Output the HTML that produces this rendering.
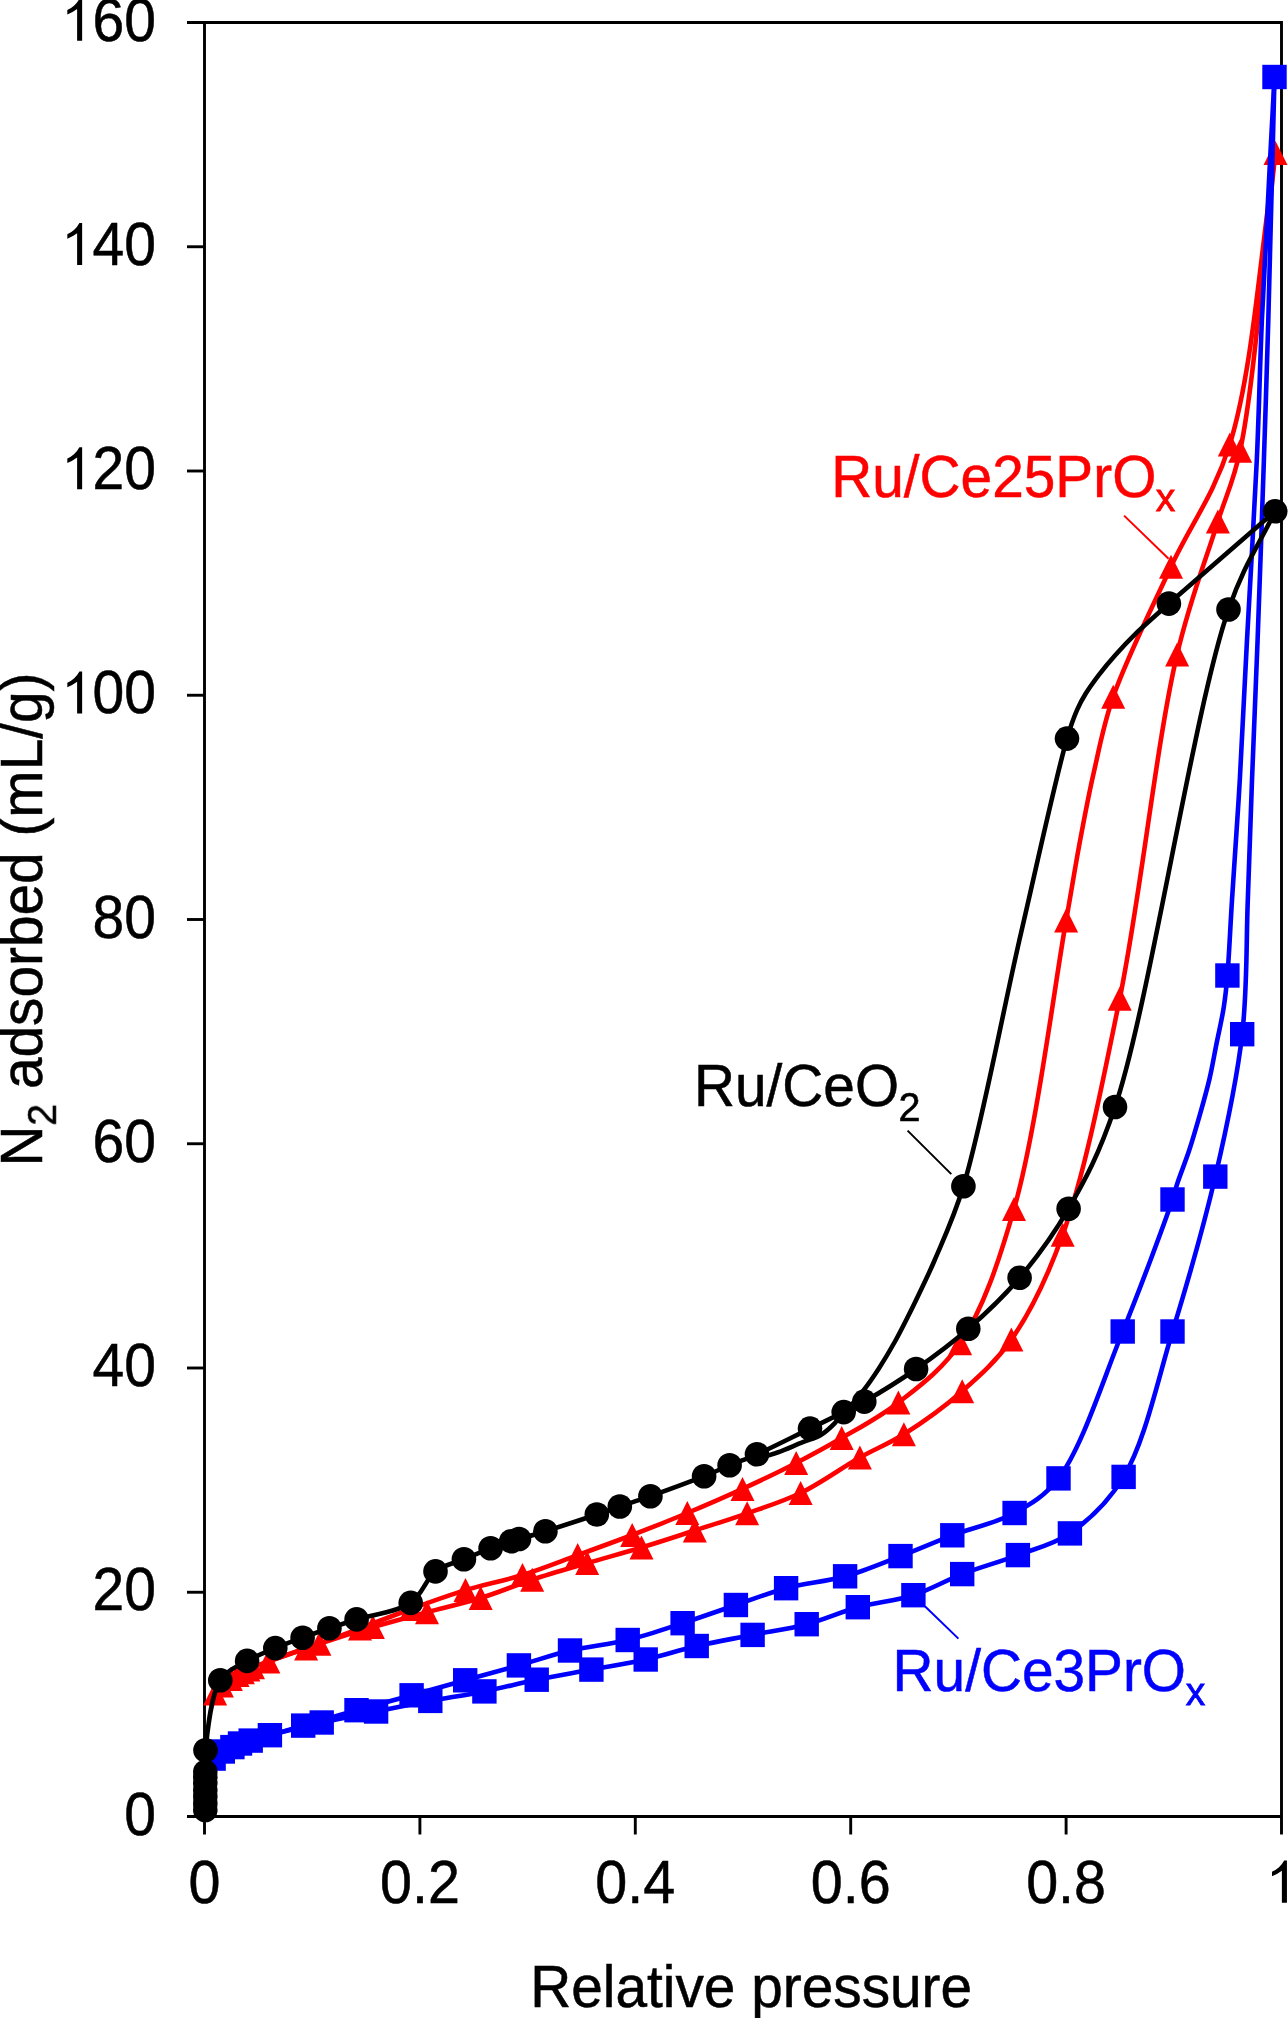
<!DOCTYPE html>
<html><head><meta charset="utf-8"><title>N2 adsorption isotherms</title>
<style>html,body{margin:0;padding:0;background:#fff;}body{width:1288px;height:2018px;overflow:hidden;}svg{display:block;}text{font-family:"Liberation Sans",sans-serif;}</style>
</head><body>
<svg width="1288" height="2018" viewBox="0 0 1288 2018"><defs><filter id="nf" x="-20%" y="-20%" width="140%" height="140%"><feOffset dx="0" dy="0"/></filter></defs><g stroke="#000" stroke-width="2.9" fill="none" stroke-linecap="butt"><path d="M187.0,22.5H1281.5V1834.5" fill="none"/><path d="M204.5,22.5V1834.5" fill="none"/><path d="M187.0,1816.5H1281.5" fill="none"/><path d="M187,1592.25H204.5"/><path d="M187,1368.00H204.5"/><path d="M187,1143.75H204.5"/><path d="M187,919.50H204.5"/><path d="M187,695.25H204.5"/><path d="M187,471.00H204.5"/><path d="M187,246.75H204.5"/><path d="M419.90,1816.5V1834.5"/><path d="M635.30,1816.5V1834.5"/><path d="M850.70,1816.5V1834.5"/><path d="M1066.10,1816.5V1834.5"/></g><g font-family="Liberation Sans, sans-serif" fill="#000" stroke="#000" stroke-width="0.5"><text transform="translate(124.30,1834.70) scale(1,1.060)" font-size="57.0">0</text><text transform="translate(92.60,1610.45) scale(1,1.060)" font-size="57.0">20</text><text transform="translate(92.60,1386.20) scale(1,1.060)" font-size="57.0">40</text><text transform="translate(92.60,1161.95) scale(1,1.060)" font-size="57.0">60</text><text transform="translate(92.60,937.70) scale(1,1.060)" font-size="57.0">80</text><path transform="translate(60.90,713.45) scale(0.02783,-0.02856)" d="M583,0L763,0L763,1466L665,1466Q600,1340 470,1225Q360,1130 231,1075L231,920Q420,990 583,1110Z"/><text transform="translate(92.60,713.45) scale(1,1.060)" font-size="57.0">00</text><path transform="translate(60.90,489.20) scale(0.02783,-0.02856)" d="M583,0L763,0L763,1466L665,1466Q600,1340 470,1225Q360,1130 231,1075L231,920Q420,990 583,1110Z"/><text transform="translate(92.60,489.20) scale(1,1.060)" font-size="57.0">20</text><path transform="translate(60.90,264.95) scale(0.02783,-0.02856)" d="M583,0L763,0L763,1466L665,1466Q600,1340 470,1225Q360,1130 231,1075L231,920Q420,990 583,1110Z"/><text transform="translate(92.60,264.95) scale(1,1.060)" font-size="57.0">40</text><path transform="translate(60.90,40.70) scale(0.02783,-0.02856)" d="M583,0L763,0L763,1466L665,1466Q600,1340 470,1225Q360,1130 231,1075L231,920Q420,990 583,1110Z"/><text transform="translate(92.60,40.70) scale(1,1.060)" font-size="57.0">60</text><text transform="translate(188.51,1902.80) scale(1,1.060)" font-size="57.5">0</text><text transform="translate(379.93,1902.80) scale(1,1.060)" font-size="57.5">0.2</text><text transform="translate(595.33,1902.80) scale(1,1.060)" font-size="57.5">0.4</text><text transform="translate(810.73,1902.80) scale(1,1.060)" font-size="57.5">0.6</text><text transform="translate(1026.13,1902.80) scale(1,1.060)" font-size="57.5">0.8</text><path transform="translate(1265.51,1902.80) scale(0.02808,-0.02881)" d="M583,0L763,0L763,1466L665,1466Q600,1340 470,1225Q360,1130 231,1075L231,920Q420,990 583,1110Z"/><text transform="translate(530.24,2007.00) scale(1,1.045)" font-size="56.8">Relative pressure</text><text transform="translate(41.9,1166.5) rotate(-90) scale(1,1.045)" font-size="56.8">N</text><text transform="translate(55.9,1125.8) rotate(-90) scale(1,1.01)" font-size="39.5" filter="url(#nf)">2</text><text transform="translate(41.9,1089.11) rotate(-90) scale(1,1.045)" font-size="56.8">adsorbed (mL/g)</text></g><g fill="none" stroke="#ff0000" stroke-width="4.6" stroke-linejoin="round"><path d="M215.1,1693.4 C217.4,1690.8 219.3,1688.0 221.9,1685.6 C224.6,1683.2 228.1,1681.0 230.9,1679.1 C233.2,1677.5 235.4,1676.2 237.5,1675.0 C239.4,1673.9 241.1,1673.1 242.9,1672.2 C244.7,1671.3 246.6,1670.3 248.3,1669.5 C249.9,1668.7 251.0,1668.2 253.0,1667.3 C256.6,1665.8 261.7,1663.8 268.4,1661.4 C280.4,1657.0 302.1,1649.4 319.4,1643.7 C337.0,1637.9 355.0,1632.3 372.9,1627.1 C390.8,1621.8 409.0,1617.1 427.0,1612.2 C444.9,1607.4 463.1,1603.4 480.7,1598.0 C498.2,1592.6 514.7,1585.5 532.2,1579.7 C550.2,1573.8 568.9,1568.5 587.2,1563.1 C605.3,1557.8 623.5,1552.9 641.5,1547.5 C659.4,1542.1 677.1,1536.2 694.8,1530.5 C712.3,1524.8 729.6,1519.5 747.1,1513.3 C764.9,1507.0 782.7,1501.7 800.6,1493.0 C820.3,1483.5 841.5,1467.9 859.9,1457.5 C875.5,1448.7 888.6,1443.8 903.9,1434.2 C922.4,1422.6 944.2,1407.0 962.2,1391.2 C980.0,1375.5 996.3,1361.2 1011.4,1339.6 C1030.7,1311.9 1047.2,1277.8 1062.7,1234.8 C1085.0,1172.8 1102.1,1085.2 1119.7,998.8 C1140.8,895.2 1156.5,741.9 1177.1,654.4 C1190.1,599.2 1206.3,558.8 1217.9,521.4 C1226.4,494.1 1233.2,482.8 1240.1,450.7 C1254.0,386.1 1263.7,252.2 1275.5,153.0"/><path d="M1275.5,153.0 C1260.3,250.1 1253.2,369.3 1229.8,444.4 C1213.9,495.3 1190.2,525.2 1171.0,566.7 C1151.3,609.3 1126.5,658.7 1113.2,696.8 C1103.3,725.2 1099.3,748.4 1093.6,773.3 C1088.2,796.9 1084.2,818.8 1079.7,842.6 C1075.0,867.8 1072.2,886.3 1066.1,920.5 C1054.4,986.3 1036.2,1132.0 1014.0,1209.1 C998.4,1263.2 983.0,1309.2 960.1,1343.2 C942.5,1369.4 919.4,1386.2 898.4,1402.6 C879.8,1417.1 859.7,1427.5 841.7,1438.1 C825.8,1447.4 812.1,1454.8 796.2,1463.0 C779.1,1471.8 760.6,1480.6 742.5,1488.9 C724.3,1497.3 705.8,1505.3 687.3,1513.0 C669.0,1520.7 650.6,1527.9 632.2,1535.0 C614.0,1542.0 595.9,1548.4 577.7,1555.1 C559.4,1561.8 541.2,1569.2 522.5,1575.0 C503.8,1580.8 484.2,1584.4 465.5,1590.1 C447.0,1595.7 428.8,1602.5 411.0,1609.0 C393.7,1615.3 377.2,1621.9 360.0,1628.4 C342.3,1635.1 322.5,1642.5 306.1,1648.4 C292.4,1653.3 281.0,1657.1 268.4,1661.4"/></g><g fill="#ff0000"><path d="M215.1,1681.4L203.1,1705.4L227.1,1705.4Z"/><path d="M221.9,1673.6L209.9,1697.6L233.9,1697.6Z"/><path d="M230.9,1667.1L218.9,1691.1L242.9,1691.1Z"/><path d="M237.5,1663.0L225.5,1687.0L249.5,1687.0Z"/><path d="M242.9,1660.2L230.9,1684.2L254.9,1684.2Z"/><path d="M248.3,1657.5L236.3,1681.5L260.3,1681.5Z"/><path d="M253.0,1655.3L241.0,1679.3L265.0,1679.3Z"/><path d="M268.4,1649.4L256.4,1673.4L280.4,1673.4Z"/><path d="M319.4,1631.7L307.4,1655.7L331.4,1655.7Z"/><path d="M372.9,1615.1L360.9,1639.1L384.9,1639.1Z"/><path d="M427.0,1600.2L415.0,1624.2L439.0,1624.2Z"/><path d="M480.7,1586.0L468.7,1610.0L492.7,1610.0Z"/><path d="M532.2,1567.7L520.2,1591.7L544.2,1591.7Z"/><path d="M587.2,1551.1L575.2,1575.1L599.2,1575.1Z"/><path d="M641.5,1535.5L629.5,1559.5L653.5,1559.5Z"/><path d="M694.8,1518.5L682.8,1542.5L706.8,1542.5Z"/><path d="M747.1,1501.3L735.1,1525.3L759.1,1525.3Z"/><path d="M800.6,1481.0L788.6,1505.0L812.6,1505.0Z"/><path d="M859.9,1445.5L847.9,1469.5L871.9,1469.5Z"/><path d="M903.9,1422.2L891.9,1446.2L915.9,1446.2Z"/><path d="M962.2,1379.2L950.2,1403.2L974.2,1403.2Z"/><path d="M1011.4,1327.6L999.4,1351.6L1023.4,1351.6Z"/><path d="M1062.7,1222.8L1050.7,1246.8L1074.7,1246.8Z"/><path d="M1119.7,986.8L1107.7,1010.8L1131.7,1010.8Z"/><path d="M1177.1,642.4L1165.1,666.4L1189.1,666.4Z"/><path d="M1217.9,509.4L1205.9,533.4L1229.9,533.4Z"/><path d="M1240.1,438.7L1228.1,462.7L1252.1,462.7Z"/><path d="M1275.5,141.0L1263.5,165.0L1287.5,165.0Z"/><path d="M1229.8,432.4L1217.8,456.4L1241.8,456.4Z"/><path d="M1171.0,554.7L1159.0,578.7L1183.0,578.7Z"/><path d="M1113.2,684.8L1101.2,708.8L1125.2,708.8Z"/><path d="M1066.1,908.5L1054.1,932.5L1078.1,932.5Z"/><path d="M1014.0,1197.1L1002.0,1221.1L1026.0,1221.1Z"/><path d="M960.1,1331.2L948.1,1355.2L972.1,1355.2Z"/><path d="M898.4,1390.6L886.4,1414.6L910.4,1414.6Z"/><path d="M841.7,1426.1L829.7,1450.1L853.7,1450.1Z"/><path d="M796.2,1451.0L784.2,1475.0L808.2,1475.0Z"/><path d="M742.5,1476.9L730.5,1500.9L754.5,1500.9Z"/><path d="M687.3,1501.0L675.3,1525.0L699.3,1525.0Z"/><path d="M632.2,1523.0L620.2,1547.0L644.2,1547.0Z"/><path d="M577.7,1543.1L565.7,1567.1L589.7,1567.1Z"/><path d="M522.5,1563.0L510.5,1587.0L534.5,1587.0Z"/><path d="M465.5,1578.1L453.5,1602.1L477.5,1602.1Z"/><path d="M411.0,1597.0L399.0,1621.0L423.0,1621.0Z"/><path d="M360.0,1616.4L348.0,1640.4L372.0,1640.4Z"/><path d="M306.1,1636.4L294.1,1660.4L318.1,1660.4Z"/></g><g fill="none" stroke="#0000ff" stroke-width="4.6" stroke-linejoin="round"><path d="M206.0,1765.0 C208.5,1762.9 210.9,1760.8 213.6,1758.6 C216.5,1756.3 219.6,1753.4 222.8,1751.5 C225.9,1749.6 229.4,1748.5 232.4,1747.1 C235.1,1745.8 237.2,1744.5 240.0,1743.5 C243.2,1742.3 246.6,1741.7 250.7,1740.6 C256.2,1739.1 261.9,1737.3 269.9,1735.2 C282.9,1731.8 304.2,1726.4 321.7,1722.5 C339.6,1718.5 358.0,1715.1 376.1,1711.5 C394.2,1707.9 412.2,1704.3 430.3,1700.9 C448.3,1697.6 466.6,1695.0 484.4,1691.4 C502.0,1687.9 519.0,1683.3 536.7,1679.7 C554.7,1676.0 573.2,1673.0 591.4,1669.6 C609.5,1666.2 628.0,1663.5 645.7,1659.5 C663.0,1655.6 679.2,1650.0 696.7,1646.0 C714.8,1641.8 734.1,1638.6 752.6,1634.9 C770.8,1631.3 789.1,1628.9 806.7,1624.2 C824.1,1619.6 840.3,1612.0 857.8,1607.2 C875.8,1602.3 895.7,1600.9 913.4,1595.2 C930.5,1589.7 945.3,1580.6 962.2,1574.1 C980.0,1567.2 999.8,1562.0 1017.9,1555.1 C1035.6,1548.4 1053.5,1544.7 1069.9,1533.4 C1089.1,1520.1 1108.3,1502.3 1123.6,1476.9 C1145.0,1441.3 1157.4,1380.9 1172.5,1331.5 C1188.0,1280.9 1203.5,1227.4 1215.3,1176.6 C1226.5,1128.4 1236.8,1081.2 1242.2,1034.2 C1247.4,989.0 1246.1,943.5 1247.8,900.0 C1249.4,858.9 1250.4,821.5 1252.0,780.0 C1253.7,735.1 1255.7,689.6 1257.6,640.0 C1259.7,583.8 1262.0,516.2 1263.9,460.0 C1265.5,410.4 1266.8,373.1 1268.3,320.0 C1270.3,250.1 1272.4,158.0 1274.5,77.0"/><path d="M1274.5,77.0 C1270.3,158.0 1265.0,250.1 1261.9,320.0 C1259.6,373.0 1259.1,410.4 1256.8,460.0 C1254.2,516.2 1250.0,583.8 1247.0,640.0 C1244.4,689.6 1242.4,735.1 1239.8,780.0 C1237.4,821.5 1234.2,864.6 1232.0,900.0 C1230.2,928.1 1229.1,955.7 1227.4,975.5 C1226.3,988.5 1225.4,996.7 1223.7,1007.6 C1221.9,1019.2 1219.0,1031.3 1216.6,1043.2 C1214.2,1055.1 1212.3,1067.0 1209.5,1078.9 C1206.7,1090.8 1203.3,1102.7 1199.9,1114.6 C1196.5,1126.5 1193.0,1138.7 1189.2,1150.3 C1185.5,1161.6 1180.3,1174.4 1177.3,1183.5 C1175.2,1189.8 1175.2,1191.7 1172.5,1199.5 C1164.8,1222.3 1141.0,1286.6 1122.7,1331.5 C1103.2,1379.4 1082.0,1447.9 1058.5,1478.4 C1044.6,1496.4 1031.4,1503.7 1014.6,1513.0 C996.4,1523.1 972.0,1527.8 952.3,1535.3 C934.2,1542.2 918.1,1549.4 900.5,1556.1 C882.4,1563.0 864.1,1571.0 845.1,1576.3 C825.9,1581.7 804.8,1583.2 786.1,1588.2 C768.5,1592.9 752.9,1599.3 735.9,1605.0 C718.4,1610.9 700.5,1617.4 682.6,1623.2 C664.5,1629.1 646.4,1635.5 627.7,1640.0 C608.8,1644.6 588.5,1646.1 570.0,1650.5 C552.3,1654.7 536.2,1660.5 518.9,1665.4 C501.2,1670.4 483.1,1675.3 465.2,1680.3 C447.3,1685.3 429.6,1690.3 411.6,1695.3 C393.4,1700.3 374.7,1705.1 356.5,1710.2 C338.6,1715.2 318.9,1721.1 303.2,1725.6 C290.8,1729.2 281.0,1732.0 269.9,1735.2"/></g><g fill="#0000ff"><rect x="201.4" y="1746.4" width="24.4" height="24.4"/><rect x="210.6" y="1739.3" width="24.4" height="24.4"/><rect x="220.2" y="1734.9" width="24.4" height="24.4"/><rect x="227.8" y="1731.3" width="24.4" height="24.4"/><rect x="238.5" y="1728.4" width="24.4" height="24.4"/><rect x="257.7" y="1723.0" width="24.4" height="24.4"/><rect x="309.5" y="1710.3" width="24.4" height="24.4"/><rect x="363.9" y="1699.3" width="24.4" height="24.4"/><rect x="418.1" y="1688.7" width="24.4" height="24.4"/><rect x="472.2" y="1679.2" width="24.4" height="24.4"/><rect x="524.5" y="1667.5" width="24.4" height="24.4"/><rect x="579.2" y="1657.4" width="24.4" height="24.4"/><rect x="633.5" y="1647.3" width="24.4" height="24.4"/><rect x="684.5" y="1633.8" width="24.4" height="24.4"/><rect x="740.4" y="1622.7" width="24.4" height="24.4"/><rect x="794.5" y="1612.0" width="24.4" height="24.4"/><rect x="845.6" y="1595.0" width="24.4" height="24.4"/><rect x="901.2" y="1583.0" width="24.4" height="24.4"/><rect x="950.0" y="1561.9" width="24.4" height="24.4"/><rect x="1005.7" y="1542.9" width="24.4" height="24.4"/><rect x="1057.7" y="1521.2" width="24.4" height="24.4"/><rect x="1111.4" y="1464.7" width="24.4" height="24.4"/><rect x="1160.3" y="1319.3" width="24.4" height="24.4"/><rect x="1203.1" y="1164.4" width="24.4" height="24.4"/><rect x="1230.0" y="1022.0" width="24.4" height="24.4"/><rect x="1262.3" y="64.8" width="24.4" height="24.4"/><rect x="1215.2" y="963.3" width="24.4" height="24.4"/><rect x="1160.3" y="1187.3" width="24.4" height="24.4"/><rect x="1110.5" y="1319.3" width="24.4" height="24.4"/><rect x="1046.3" y="1466.2" width="24.4" height="24.4"/><rect x="1002.4" y="1500.8" width="24.4" height="24.4"/><rect x="940.1" y="1523.1" width="24.4" height="24.4"/><rect x="888.3" y="1543.9" width="24.4" height="24.4"/><rect x="832.9" y="1564.1" width="24.4" height="24.4"/><rect x="773.9" y="1576.0" width="24.4" height="24.4"/><rect x="723.7" y="1592.8" width="24.4" height="24.4"/><rect x="670.4" y="1611.0" width="24.4" height="24.4"/><rect x="615.5" y="1627.8" width="24.4" height="24.4"/><rect x="557.8" y="1638.3" width="24.4" height="24.4"/><rect x="506.7" y="1653.2" width="24.4" height="24.4"/><rect x="453.0" y="1668.1" width="24.4" height="24.4"/><rect x="399.4" y="1683.1" width="24.4" height="24.4"/><rect x="344.3" y="1698.0" width="24.4" height="24.4"/><rect x="291.0" y="1713.4" width="24.4" height="24.4"/></g><g fill="none" stroke="#000000" stroke-width="4.6" stroke-linejoin="round"><path d="M205.3,1809.0 C205.3,1796.5 205.2,1782.2 205.3,1771.5 C205.3,1763.4 204.5,1759.3 205.5,1750.2 C207.3,1733.6 210.5,1695.4 220.3,1680.3 C227.0,1670.0 237.8,1666.3 247.1,1660.9 C256.1,1655.7 265.9,1652.0 275.3,1648.1 C284.4,1644.3 293.5,1641.0 302.6,1637.7 C311.6,1634.4 320.4,1631.3 329.4,1628.3 C338.4,1625.2 346.0,1622.8 356.6,1619.4 C371.5,1614.7 397.1,1612.2 410.7,1602.9 C422.1,1595.1 425.9,1578.8 435.5,1571.4 C443.9,1564.9 454.6,1563.1 463.9,1559.2 C472.9,1555.4 482.2,1551.4 490.6,1548.3 C497.9,1545.6 506.0,1543.0 511.2,1541.3 C514.4,1540.3 515.6,1540.0 519.0,1539.0 C525.2,1537.2 535.2,1534.4 545.4,1531.2 C559.7,1526.8 583.1,1519.1 596.8,1514.5 C606.0,1511.4 611.6,1509.3 619.8,1506.5 C629.3,1503.3 638.8,1500.3 650.4,1496.2 C665.8,1490.7 689.6,1482.0 704.1,1476.2 C714.2,1472.2 720.9,1468.9 729.6,1465.3 C738.5,1461.6 746.5,1459.0 757.0,1454.3 C771.9,1447.7 794.3,1436.2 810.0,1428.6 C822.5,1422.5 833.9,1417.0 843.7,1412.1 C851.4,1408.2 856.0,1406.3 864.3,1401.6 C877.8,1393.9 899.1,1380.9 916.1,1369.0 C933.8,1356.7 951.4,1343.6 968.3,1328.8 C986.0,1313.3 1003.5,1296.9 1019.6,1277.8 C1037.1,1257.2 1053.6,1234.7 1068.6,1208.7 C1085.8,1178.8 1098.8,1154.8 1115.0,1107.0 C1149.6,1004.8 1193.5,710.4 1228.5,609.5 C1244.7,562.9 1259.6,544.0 1275.2,511.2"/><path d="M1275.2,511.2 C1239.8,542.0 1184.9,589.5 1168.9,603.6 C1164.2,607.7 1163.5,608.4 1159.8,611.7 C1153.9,617.0 1144.4,625.2 1137.0,632.4 C1129.5,639.7 1121.8,647.8 1115.2,655.2 C1109.2,661.9 1103.9,668.3 1098.9,674.8 C1094.2,681.0 1089.6,687.2 1085.9,693.3 C1082.5,698.8 1080.0,703.3 1077.2,709.6 C1073.6,717.8 1071.1,724.5 1067.0,738.6 C1056.4,774.7 1036.9,864.7 1020.8,934.0 C1002.5,1012.7 981.4,1127.7 963.4,1186.3 C953.5,1218.7 942.5,1241.5 934.7,1260.0 C929.9,1271.4 926.5,1278.2 922.2,1287.2 C917.9,1296.3 913.6,1305.3 909.1,1314.3 C904.5,1323.4 900.0,1332.5 895.0,1341.5 C889.9,1350.6 884.2,1360.2 878.7,1368.7 C873.7,1376.4 868.3,1384.2 863.5,1390.4 C859.7,1395.4 856.2,1399.7 852.6,1403.5 C849.5,1406.8 846.3,1409.0 843.4,1412.2 C840.3,1415.6 838.1,1419.8 834.6,1423.4 C830.7,1427.4 826.0,1431.9 820.8,1435.0 C815.4,1438.2 809.8,1439.5 802.8,1442.2 C793.2,1445.9 776.8,1454.0 768.3,1455.2 C763.6,1455.9 760.8,1454.6 757.0,1454.3"/></g><g fill="#000000"><circle cx="205.3" cy="1810.0" r="12.3"/><circle cx="205.3" cy="1803.5" r="12.3"/><circle cx="205.3" cy="1796.5" r="12.3"/><circle cx="205.3" cy="1790.0" r="12.3"/><circle cx="205.3" cy="1783.0" r="12.3"/><circle cx="205.3" cy="1777.0" r="12.3"/><circle cx="205.3" cy="1772.0" r="12.3"/><circle cx="205.5" cy="1750.2" r="12.3"/><circle cx="220.3" cy="1680.3" r="12.3"/><circle cx="247.1" cy="1660.9" r="12.3"/><circle cx="275.3" cy="1648.1" r="12.3"/><circle cx="302.6" cy="1637.7" r="12.3"/><circle cx="329.4" cy="1628.3" r="12.3"/><circle cx="356.6" cy="1619.4" r="12.3"/><circle cx="410.7" cy="1602.9" r="12.3"/><circle cx="435.5" cy="1571.4" r="12.3"/><circle cx="463.9" cy="1559.2" r="12.3"/><circle cx="490.6" cy="1548.3" r="12.3"/><circle cx="511.2" cy="1541.3" r="12.3"/><circle cx="519.0" cy="1539.0" r="12.3"/><circle cx="545.4" cy="1531.2" r="12.3"/><circle cx="596.8" cy="1514.5" r="12.3"/><circle cx="619.8" cy="1506.5" r="12.3"/><circle cx="650.4" cy="1496.2" r="12.3"/><circle cx="704.1" cy="1476.2" r="12.3"/><circle cx="729.6" cy="1465.3" r="12.3"/><circle cx="757.0" cy="1454.3" r="12.3"/><circle cx="810.0" cy="1428.6" r="12.3"/><circle cx="843.7" cy="1412.1" r="12.3"/><circle cx="864.3" cy="1401.6" r="12.3"/><circle cx="916.1" cy="1369.0" r="12.3"/><circle cx="968.3" cy="1328.8" r="12.3"/><circle cx="1019.6" cy="1277.8" r="12.3"/><circle cx="1068.6" cy="1208.7" r="12.3"/><circle cx="1115.0" cy="1107.0" r="12.3"/><circle cx="1228.5" cy="609.5" r="12.3"/><circle cx="1275.2" cy="511.2" r="12.3"/><circle cx="1168.9" cy="603.6" r="12.3"/><circle cx="1067.0" cy="738.6" r="12.3"/><circle cx="963.4" cy="1186.3" r="12.3"/></g><path d="M1124.1,515.6L1168.6,558.7" stroke="#ff0000" stroke-width="2" fill="none"/><path d="M907.6,1130.6L951.3,1174.1" stroke="#000" stroke-width="2" fill="none"/><path d="M924.9,1606.2L958.4,1638.6" stroke="#0000ff" stroke-width="2" fill="none"/><g font-family="Liberation Sans, sans-serif"><text transform="translate(831.24,497.30) scale(1,1.045)" font-size="56.8" fill="#ff0000" stroke="#ff0000" stroke-width="0.50">Ru/Ce25PrO</text><text transform="translate(1155.67,510.90) scale(1,1.010)" font-size="39.0" fill="#ff0000" stroke="#ff0000" stroke-width="0.80" filter="url(#nf)">x</text><text transform="translate(693.94,1106.10) scale(1,1.045)" font-size="56.8" fill="#000" stroke="#000" stroke-width="0.50">Ru/CeO</text><text transform="translate(898.51,1120.50) scale(1,1.010)" font-size="39.5" fill="#000" stroke="#000" stroke-width="0.60" filter="url(#nf)">2</text><text transform="translate(892.54,1691.00) scale(1,1.045)" font-size="56.8" fill="#0000ff" stroke="#0000ff" stroke-width="0.50">Ru/Ce3PrO</text><text transform="translate(1185.67,1704.90) scale(1,1.010)" font-size="39.0" fill="#0000ff" stroke="#0000ff" stroke-width="0.80" filter="url(#nf)">x</text></g></svg>
</body></html>
